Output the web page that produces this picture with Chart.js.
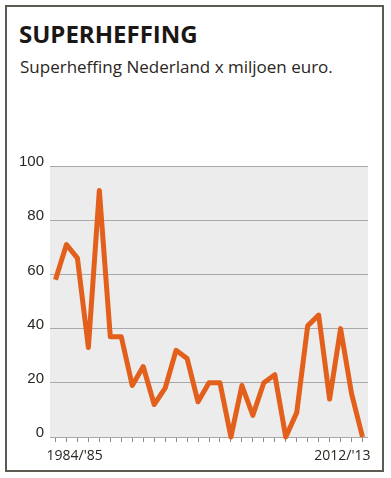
<!DOCTYPE html>
<html>
<head>
<meta charset="utf-8">
<script src="https://cdn.jsdelivr.net/npm/chart.js@4/dist/chart.umd.min.js"></script>
<style>
  html, body { margin: 0; padding: 0; background: #fff; }
  body { width: 391px; height: 478px; position: relative; overflow: hidden; }
  #frame { position: absolute; left: 5px; top: 5px; width: 375px; height: 463px; border: 2px solid #5d5953; }
  #title { position: absolute; left: 19px; top: 17px; font-family: "Open Sans", sans-serif; font-weight: 700; font-size: 24px; color: #1b1714; letter-spacing: 0px; white-space: nowrap; }
  #subtitle { position: absolute; left: 20px; top: 55px; font-family: "Open Sans", sans-serif; font-size: 17px; color: #2a2622; white-space: nowrap; }
  #c { position: absolute; left: 0; top: 0; }
</style>
</head>
<body>
<div id="frame"></div>
<div id="title">SUPERHEFFING</div>
<div id="subtitle">Superheffing Nederland x miljoen euro.</div>
<canvas id="c" width="391" height="478"></canvas>
<script>
const seasons = ["1984/'85","1985/'86","1986/'87","1987/'88","1988/'89","1989/'90","1990/'91","1991/'92","1992/'93","1993/'94","1994/'95","1995/'96","1996/'97","1997/'98","1998/'99","1999/'00","2000/'01","2001/'02","2002/'03","2003/'04","2004/'05","2005/'06","2006/'07","2007/'08","2008/'09","2009/'10","2010/'11","2011/'12","2012/'13"];
const superheffing = [58,71,66,33,91,37,37,19,26,12,18,32,29,13,20,20,0,19,8,20,23,0,9,41,45,14,40,16,0];
const shownXLabels = ["1984/'85","2012/'13"];
const yTicks = [0,20,40,60,80,100];

const bgPlugin = {
  id: 'bg',
  beforeDraw(chart) {
    const {ctx, chartArea: a} = chart;
    ctx.save();
    ctx.fillStyle = '#ececed';
    ctx.fillRect(a.left, a.top, a.right - a.left, a.bottom - a.top);
    ctx.restore();
  }
};

const xLabelPlugin = {
  id: 'xlabels',
  afterDraw(chart) {
    const {ctx} = chart;
    const xs = chart.scales.x;
    ctx.save();
    ctx.font = '14px "Open Sans", sans-serif';
    ctx.fillStyle = '#2a2622';
    ctx.textBaseline = 'alphabetic';
    const first = seasons.indexOf(shownXLabels[0]);
    const last = seasons.indexOf(shownXLabels[1]);
    ctx.textAlign = 'left';
    ctx.fillText(shownXLabels[0], xs.getPixelForValue(first) - 9, 460);
    ctx.textAlign = 'right';
    ctx.fillText(shownXLabels[1], xs.getPixelForValue(last) + 8, 460);
    ctx.restore();
  }
};

new Chart(document.getElementById('c'), {
  type: 'line',
  data: {
    labels: seasons,
    datasets: [{
      data: superheffing,
      borderColor: '#e2601b',
      borderWidth: 5,
      borderJoinStyle: 'round',
      borderCapStyle: 'butt',
      pointRadius: 0,
      tension: 0,
      fill: false,
      clip: false
    }]
  },
  options: {
    responsive: false,
    animation: false,
    layout: { padding: { top: 166, right: 23, left: 0, bottom: 0 } },
    plugins: { legend: { display: false }, tooltip: { enabled: false }, title: { display: false } },
    scales: {
      x: {
        type: 'category',
        offset: true,
        border: { display: false },
        grid: { drawOnChartArea: false, drawTicks: true, tickLength: 5, tickColor: '#8a8a8a', offset: false, lineWidth: 1 },
        ticks: { display: false },
        afterFit(s) { s.height = 41; }
      },
      y: {
        min: 0, max: 100,
        border: { display: false },
        grid: { color: '#a9a9ab', lineWidth: 1, drawTicks: false },
        afterBuildTicks(s) { s.ticks = yTicks.map(v => ({value: v})); },
        ticks: {
          padding: 6,
          labelOffset: -4,
          color: '#2a2622',
          font: { family: '"Liberation Sans", Arial, sans-serif', size: 15 }
        },
        afterFit(s) { s.width = 50; }
      }
    }
  },
  plugins: [bgPlugin, xLabelPlugin]
});
</script>
</body>
</html>
